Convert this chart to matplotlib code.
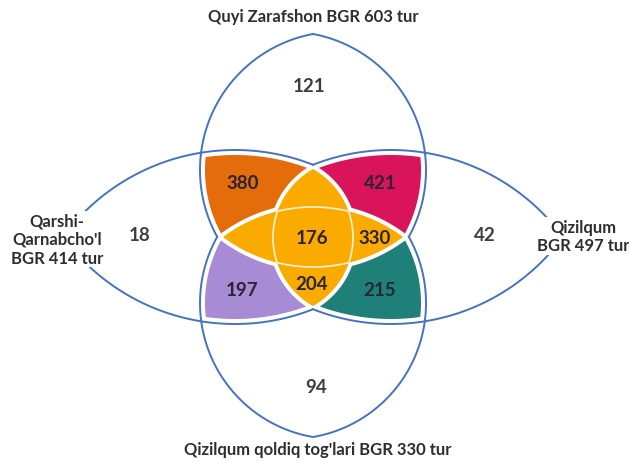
import numpy as np
import matplotlib
matplotlib.use("Agg")
import matplotlib.pyplot as plt

# ---------------- data ----------------
set_names = ["Quyi Zarafshon", "Qarshi-\nQarnabcho'l", "Qizilqum", "Qizilqum qoldiq tog'lari"]
set_totals = [603, 414, 497, 330]
unique_counts = [121, 18, 42, 94]          # top, left, right, bottom
pair_counts = [380, 421, 197, 215]         # top-left, top-right, bottom-left, bottom-right
core_counts = [176, 330, 204]              # centre, right lobe, bottom lobe

# ---------------- layout ----------------
W, H = 629, 464
fig = plt.figure(figsize=(W / 100, H / 100), dpi=100)
ax = fig.add_axes([0, 0, 1, 1])
ax.set_xlim(0, W)
ax.set_ylim(H, 0)
ax.axis("off")

xs = np.arange(0, W + 0.5, 0.5)
ys = np.arange(0, H + 0.5, 0.5)
X, Y = np.meshgrid(xs, ys)


def vesica(cx, cy, a, b, vertical):
    r = (b + a * a / b) / 2.0
    d = r - b
    if vertical:
        d1 = r - np.hypot(X - (cx - d), Y - cy)
        d2 = r - np.hypot(X - (cx + d), Y - cy)
    else:
        d1 = r - np.hypot(X - cx, Y - (cy - d))
        d2 = r - np.hypot(X - cx, Y - (cy + d))
    return np.minimum(d1, d2)


CX, CY = 313, 238
T = vesica(CX, 171, 136, 113, True)
B = vesica(CX, 304, 134, 113, True)
L = vesica(235, CY, 172, 87, False)
R = vesica(391, CY, 172, 87, False)
Hl = vesica(CX, CY, 90, 30, False)
Vl = vesica(CX, 238.5, 68.5, 40, True)
Yc = np.maximum(Hl, Vl)

g_out, g_y, g_ax = 5.0, 4.0, 3.0
colors = ["#E46C0A", "#D9145A", "#A78BD4", "#1F8079"]
pieces = [
    np.minimum.reduce([T - g_out, L - g_out, -Yc - g_y, (CX - X) - g_ax, (CY - Y) - g_ax]),
    np.minimum.reduce([T - g_out, R - g_out, -Yc - g_y, (X - CX) - g_ax, (CY - Y) - g_ax]),
    np.minimum.reduce([B - g_out, L - g_out, -Yc - g_y, (CX - X) - g_ax, (Y - CY) - g_ax]),
    np.minimum.reduce([B - g_out, R - g_out, -Yc - g_y, (X - CX) - g_ax, (Y - CY) - g_ax]),
]
for f, c in zip(pieces, colors):
    ax.contourf(X, Y, f, levels=[0, 1e9], colors=[c], zorder=2, antialiased=True)

ax.contourf(X, Y, Yc, levels=[0, 1e9], colors=["#FBAA00"], zorder=2, antialiased=True)

# inner white lines inside the yellow core
ax.contour(X, Y, np.ma.masked_where(Vl < 0, Hl), levels=[0], colors=["#FFF2D6"],
           linewidths=1.2, zorder=3)
ax.contour(X, Y, np.ma.masked_where(Hl < 0, Vl), levels=[0], colors=["#FFF2D6"],
           linewidths=1.2, zorder=3)

# blue outlines, hidden inside the flower
F = np.maximum.reduce([np.minimum(T, L), np.minimum(T, R), np.minimum(B, L), np.minimum(B, R), Yc])
for S in (T, B, L, R):
    ax.contour(X, Y, np.ma.masked_where(F > 1.0, S), levels=[0], colors=["#4472C4"],
               linewidths=1.4, zorder=4)

# ---------------- texts ----------------
fam = ["Lato", "DejaVu Sans"]
lab_c = "#2E2E2E"
ax.text(313, 17, f"{set_names[0]} BGR {set_totals[0]} tur", ha="center", va="center",
        fontsize=12, fontweight="bold", color=lab_c, family=fam, zorder=6)
ax.text(318, 450, f"{set_names[3]} BGR {set_totals[3]} tur", ha="center", va="center",
        fontsize=12, fontweight="bold", color=lab_c, family=fam, zorder=6)
ax.text(57, 240, f"{set_names[1]}\nBGR {set_totals[1]} tur", ha="center", va="center",
        fontsize=12, fontweight="bold", color=lab_c, family=fam, linespacing=1.2,
        zorder=6, bbox=dict(facecolor="white", edgecolor="none", pad=1))
ax.text(583, 237, f"{set_names[2]}\nBGR {set_totals[2]} tur", ha="center", va="center",
        fontsize=12, fontweight="bold", color=lab_c, family=fam, linespacing=1.2,
        zorder=6, bbox=dict(facecolor="white", edgecolor="none", pad=1))

num_c = "#3F3F3F"
for (x, y), v in zip([(309, 87), (140, 236), (485, 236), (316, 388)], unique_counts):
    ax.text(x, y, str(v), ha="center", va="center", fontsize=13.5, fontweight="bold",
            color=num_c, family=fam, zorder=6)

in_c = "#2A2438"
for (x, y), v in zip([(243, 184), (380, 184), (242, 291), (380, 291)], pair_counts):
    ax.text(x, y, str(v), ha="center", va="center", fontsize=13.5, fontweight="bold",
            color=in_c, family=fam, zorder=6)
for (x, y), v in zip([(312, 239), (375, 239), (312, 285)], core_counts):
    ax.text(x, y, str(v), ha="center", va="center", fontsize=13.5, fontweight="bold",
            color=in_c, family=fam, zorder=6)

fig.savefig("out.png", dpi=100, facecolor="white")
